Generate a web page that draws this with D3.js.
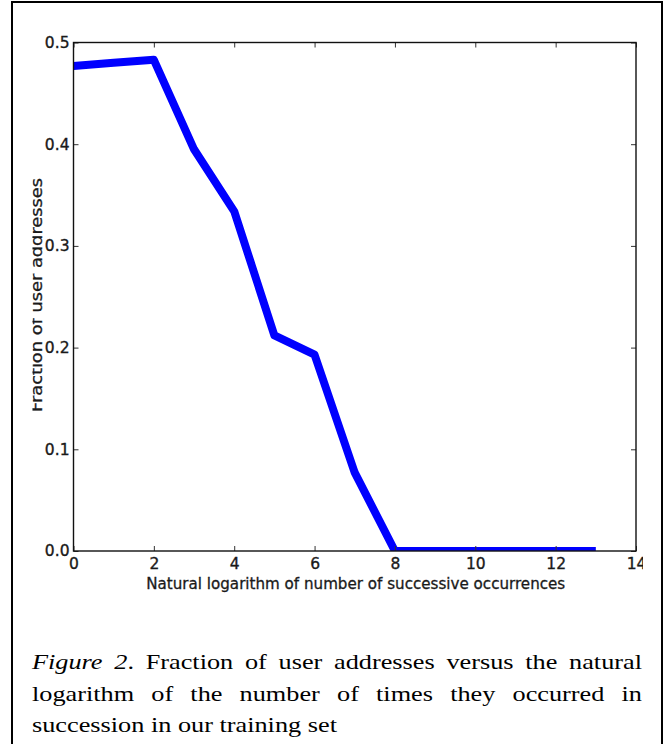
<!DOCTYPE html>
<html>
<head>
<meta charset="utf-8">
<script src="https://cdn.jsdelivr.net/npm/d3@7/dist/d3.min.js"></script>
<style>
  html, body { margin: 0; padding: 0; background: #ffffff; }
  svg { display: block; }
</style>
</head>
<body>
<script>
// ---- data ----
const xValues = [0, 1, 2, 3, 4, 5, 6, 7, 8, 9, 10, 11, 12, 13];
const yValues = [0.477, 0.480, 0.483, 0.395, 0.334, 0.212, 0.193, 0.077, 0, 0, 0, 0, 0, 0];
const xTicks = [0, 2, 4, 6, 8, 10, 12, 14];
const yTicks = [0.0, 0.1, 0.2, 0.3, 0.4, 0.5];
const xLabel = "Natural logarithm of number of successive occurrences";
const yLabel = "Fraction of user addresses";
const captionLines = [
  ["Figure 2", ".", " Fraction of user addresses versus the natural"],
  ["logarithm of the number of times they occurred in"],
  ["succession in our training set"]
];

// ---- layout ----
const W = 666, H = 744;
const plot = { left: 73.5, right: 636, top: 42.5, bottom: 551 };

const svg = d3.select("body").append("svg").attr("width", W).attr("height", H);

// outer frame
svg.append("rect").attr("x", 12).attr("y", 2).attr("width", 650).attr("height", 780)
  .attr("fill", "none").attr("stroke", "#000").attr("stroke-width", 2);

const defs = svg.append("defs");
defs.append("clipPath").attr("id", "imgClip").append("rect")
  .attr("x", 13).attr("y", 3).attr("width", 630).attr("height", 620);
defs.append("clipPath").attr("id", "plotClip").append("rect")
  .attr("x", plot.left).attr("y", plot.top)
  .attr("width", plot.right - plot.left).attr("height", plot.bottom - plot.top);
defs.append("clipPath").attr("id", "ylabClip").append("rect")
  .attr("x", 32.5).attr("y", 0).attr("width", 40).attr("height", H);

const chart = svg.append("g").attr("clip-path", "url(#imgClip)");

const x = d3.scaleLinear().domain([0, 14]).range([plot.left, plot.right]);
const y = d3.scaleLinear().domain([0, 0.5]).range([plot.bottom, plot.top]);

const fontSans = "'DejaVu Sans', sans-serif";
const tickColor = "#333";
const textColor = "#1a1a1a";

// data line
const line = d3.line().x((d, i) => x(xValues[i])).y(d => y(d));
chart.append("path")
  .datum(yValues)
  .attr("clip-path", "url(#plotClip)")
  .attr("d", line)
  .attr("fill", "none")
  .attr("stroke", "#0000ff")
  .attr("stroke-width", 8)
  .attr("stroke-linejoin", "round");

// axes
function styleAxis(g) {
  g.select(".domain").remove();
  g.selectAll(".tick line").attr("stroke", tickColor).attr("stroke-width", 1);
  g.selectAll(".tick text").attr("fill", textColor)
    .attr("stroke", textColor).attr("stroke-width", 0.35)
    .attr("font-family", fontSans).attr("font-size", 15.5);
}

chart.append("g").attr("transform", `translate(0,${plot.bottom})`)
  .call(d3.axisBottom(x).tickValues(xTicks).tickFormat(d3.format("d"))
    .tickSizeInner(-5).tickSizeOuter(0).tickPadding(7))
  .call(styleAxis);

chart.append("g").attr("transform", `translate(0,${plot.top})`)
  .call(d3.axisTop(x).tickValues(xTicks).tickFormat("")
    .tickSizeInner(-5).tickSizeOuter(0))
  .call(styleAxis);

chart.append("g").attr("transform", `translate(${plot.left},0)`)
  .call(d3.axisLeft(y).tickValues(yTicks).tickFormat(d3.format(".1f"))
    .tickSizeInner(-5).tickSizeOuter(0).tickPadding(4))
  .call(styleAxis);

chart.append("g").attr("transform", `translate(${plot.right},0)`)
  .call(d3.axisRight(y).tickValues(yTicks).tickFormat("")
    .tickSizeInner(-5).tickSizeOuter(0))
  .call(styleAxis);

// frame
chart.append("rect")
  .attr("x", plot.left).attr("y", plot.top)
  .attr("width", plot.right - plot.left).attr("height", plot.bottom - plot.top)
  .attr("fill", "none").attr("stroke", "#111").attr("stroke-width", 1.4);

// axis labels
chart.append("text")
  .attr("x", (plot.left + plot.right) / 2 + 1).attr("y", 589)
  .attr("text-anchor", "middle")
  .attr("font-family", fontSans).attr("font-size", 15)
  .attr("textLength", 419).attr("lengthAdjust", "spacingAndGlyphs")
  .attr("fill", textColor).attr("stroke", textColor).attr("stroke-width", 0.3)
  .text(xLabel);

chart.append("g").attr("clip-path", "url(#ylabClip)")
  .append("text")
  .attr("transform", "translate(42,295) rotate(-90)")
  .attr("text-anchor", "middle")
  .attr("font-family", fontSans).attr("font-size", 15.5)
  .attr("textLength", 234).attr("lengthAdjust", "spacingAndGlyphs")
  .attr("fill", textColor).attr("stroke", textColor).attr("stroke-width", 0.3)
  .text(yLabel);

// caption (justified)
const capX = 32, capRight = 642, capYs = [669, 701, 732], lastLineWidth = 305;
const capG = svg.append("g");
const capTexts = captionLines.map((parts, i) => {
  const t = capG.append("text")
    .attr("font-family", "'Liberation Serif', 'Times New Roman', serif")
    .attr("font-size", 21.5).attr("fill", "#000")
    .attr("xml:space", "preserve");
  parts.forEach((p, j) => {
    const ts = t.append("tspan").text(p);
    if (i === 0 && j === 0) ts.attr("font-style", "italic");
  });
  return t;
});
const w3 = capTexts[2].node().getComputedTextLength();
const sx = lastLineWidth / w3;
capTexts.forEach((t, i) => {
  t.attr("transform", `translate(${capX},${capYs[i]}) scale(${sx},1)`);
  if (i < 2) {
    const w = t.node().getComputedTextLength();
    const full = captionLines[i].join("");
    const nSp = (full.match(/ /g) || []).length;
    const target = (capRight - capX) / sx;
    t.attr("word-spacing", (target - w) / nSp);
  }
});
</script>
</body>
</html>
